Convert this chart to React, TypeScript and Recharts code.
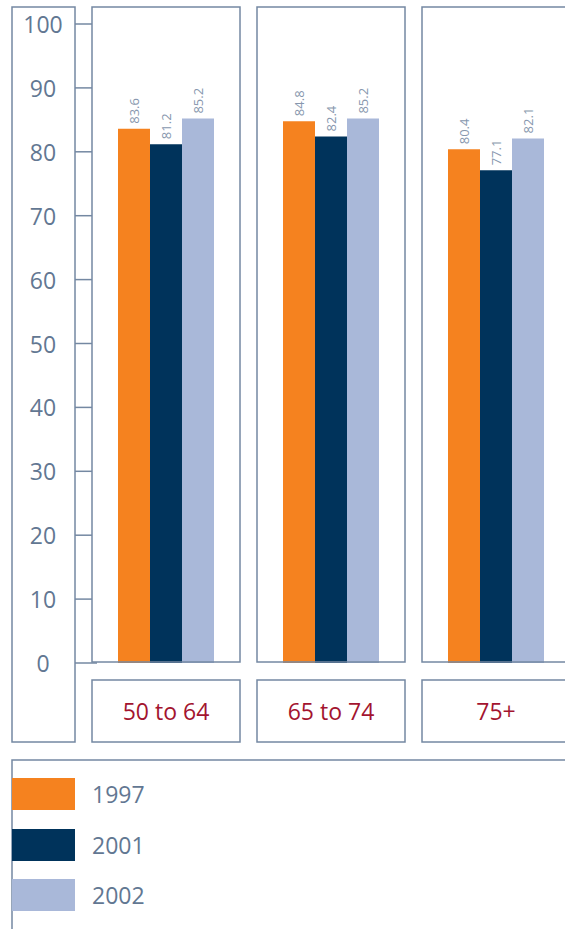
import React from 'react';
import { BarChart, Bar, XAxis, YAxis, LabelList } from 'recharts';

const categories = ['50 to 64', '65 to 74', '75+'];
const values1997 = [83.6, 84.8, 80.4];
const values2001 = [81.2, 82.4, 77.1];
const values2002 = [85.2, 85.2, 82.1];
const yTicks = [0, 10, 20, 30, 40, 50, 60, 70, 80, 90, 100];

const series = [
  { key: 'y1997', name: '1997', color: '#f5821f' },
  { key: 'y2001', name: '2001', color: '#00335b' },
  { key: 'y2002', name: '2002', color: '#a9b8d9' },
];

const data = categories.map((label, i) => ({
  label,
  y1997: values1997[i],
  y2001: values2001[i],
  y2002: values2002[i],
}));

const FRAME = '#7488a2';
const TICK_TEXT = '#627792';
const VALUE_TEXT = '#8797ae';
const CAT_TEXT = '#a3142f';
const FONT = '"Open Sans", sans-serif';

const YTick = (props: any) => {
  const { y, payload } = props;
  const isZero = payload.value === 0;
  return (
    <g>
      <line x1={76} x2={isZero ? 98 : 93} y1={y} y2={y} stroke={FRAME} strokeWidth={1.5} />
      <text
        x={44}
        y={y}
        textAnchor="middle"
        dominantBaseline="central"
        fill={TICK_TEXT}
        fontSize={23}
        fontFamily={FONT}
      >
        {payload.value}
      </text>
    </g>
  );
};

const XTick = (props: any) => {
  const { x, payload } = props;
  return (
    <g>
      <rect x={x - 73.5} y={7} width={148} height={655} fill="none" stroke={FRAME} strokeWidth={1.5} />
      <rect x={x - 73.5} y={680} width={148} height={62} fill="none" stroke={FRAME} strokeWidth={1.5} />
      <text
        x={x + 0.5}
        y={711}
        textAnchor="middle"
        dominantBaseline="central"
        fill={CAT_TEXT}
        fontSize={23}
        fontFamily={FONT}
      >
        {payload.value}
      </text>
    </g>
  );
};

const renderValueLabel = (props: any) => {
  const { x, y, width, value } = props;
  return (
    <text
      transform={`translate(${x + width / 2}, ${y - 5}) rotate(-90)`}
      textAnchor="start"
      dominantBaseline="central"
      fill={VALUE_TEXT}
      fontSize={13}
      fontFamily={FONT}
    >
      {value}
    </text>
  );
};

export default function App() {
  return (
    <div style={{ position: 'relative', width: 565, height: 929, overflow: 'hidden', background: '#fff' }}>
      <style>{'body{margin:0}'}</style>
      <svg width={565} height={929} style={{ position: 'absolute', left: 0, top: 0 }}>
        <rect x={12} y={7} width={63} height={735} fill="none" stroke={FRAME} strokeWidth={1.5} />
        <polyline points="12,935 12,760 570,760" fill="none" stroke={FRAME} strokeWidth={1.5} />
      </svg>
      <div style={{ position: 'absolute', left: -1, top: 0 }}>
        <BarChart
          width={600}
          height={929}
          data={data}
          margin={{ top: 24, right: 21, left: 0, bottom: 166 }}
          barGap={0}
        >
          <YAxis
            width={84}
            domain={[0, 100]}
            ticks={yTicks}
            interval={0}
            axisLine={false}
            tickLine={false}
            tick={<YTick />}
          />
          <XAxis
            dataKey="label"
            height={100}
            interval={0}
            axisLine={false}
            tickLine={false}
            tick={<XTick />}
          />
          {series.map((s) => (
            <Bar key={s.key} dataKey={s.key} name={s.name} fill={s.color} barSize={32} isAnimationActive={false}>
              <LabelList dataKey={s.key} content={renderValueLabel} />
            </Bar>
          ))}
        </BarChart>
      </div>
      <div style={{ position: 'absolute', left: 12, top: 778, fontFamily: FONT }}>
        {series.map((s) => (
          <div key={s.key} style={{ display: 'flex', alignItems: 'center', height: 32, marginBottom: 18.5 }}>
            <div style={{ width: 63, height: 32, background: s.color }} />
            <span style={{ marginLeft: 17, fontSize: 23, color: TICK_TEXT, lineHeight: '32px' }}>{s.name}</span>
          </div>
        ))}
      </div>
    </div>
  );
}
